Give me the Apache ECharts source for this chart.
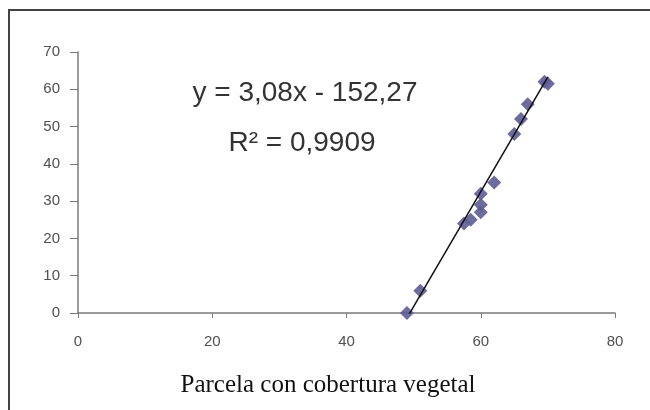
<!DOCTYPE html>
<html>
<head>
<meta charset="utf-8">
<script src="https://cdn.jsdelivr.net/npm/echarts@6/dist/echarts.min.js"></script>
<style>
  html, body { margin: 0; padding: 0; background: #fff; }
  #chart { width: 650px; height: 410px; }
</style>
</head>
<body>
<div id="chart"></div>
<script>
// measured points (x, y)
const xValues = [49, 51, 57.5, 58.5, 60, 60, 60, 62, 65, 66, 67, 69.5, 70];
const yValues = [0, 6, 24, 25, 27, 29, 32, 35, 48, 52, 56, 62, 61.5];
const xTicks = [0, 20, 40, 60, 80];
const yTicks = [0, 10, 20, 30, 40, 50, 60, 70];
// linear trend shown on the chart
const slope = 3.08;
const intercept = -152.27;
const r2 = '0,9909';
const caption = 'Parcela con cobertura vegetal';

const points = xValues.map((x, i) => [x, yValues[i]]);
const xMin = Math.min(...xValues);
const xMax = Math.max(...xValues);
const trend = [xMin, xMax].map(x => [x, slope * x + intercept]);

const fmt = v => v.toFixed(2).replace('.', ',');
const eqText = 'y = ' + fmt(slope) + 'x - ' + fmt(-intercept);

const myChart = echarts.init(document.getElementById('chart'));

const option = {
  animation: false,
  backgroundColor: '#fff',
  grid: { left: 78, right: 35, top: 52, bottom: 97 },
  xAxis: {
    type: 'value',
    min: xTicks[0],
    max: xTicks[xTicks.length - 1],
    interval: 20,
    splitLine: { show: false },
    axisLine: { lineStyle: { color: '#7a7a7a', width: 1.5 } },
    axisTick: { show: true, length: 5, lineStyle: { color: '#7a7a7a' } },
    axisLabel: { color: '#505050', fontSize: 15, fontFamily: 'Liberation Sans', margin: 21 }
  },
  yAxis: {
    type: 'value',
    min: yTicks[0],
    max: yTicks[yTicks.length - 1],
    interval: 10,
    splitLine: { show: false },
    axisLine: { show: true, lineStyle: { color: '#7a7a7a', width: 1.5 } },
    axisTick: { show: true, length: 8, lineStyle: { color: '#7a7a7a' } },
    axisLabel: { color: '#505050', fontSize: 15, fontFamily: 'Liberation Sans', margin: 18 }
  },
  series: [
    {
      type: 'line',
      data: trend,
      showSymbol: false,
      clip: true,
      lineStyle: { color: '#111', width: 1.5 },
      z: 3
    },
    {
      type: 'scatter',
      data: points,
      symbol: 'diamond',
      symbolSize: 14,
      itemStyle: { color: '#5d5c93', opacity: 0.9 },
      z: 2
    }
  ],
  graphic: [
    {
      type: 'rect',
      shape: { x: 9, y: 10, width: 700, height: 500 },
      style: { fill: 'none', stroke: '#444', lineWidth: 2 },
      silent: true
    },
    {
      type: 'text',
      x: 305, y: 93,
      style: {
        text: eqText,
        align: 'center', verticalAlign: 'middle',
        fontSize: 28, fontFamily: 'Liberation Sans', fill: '#333'
      }
    },
    {
      type: 'text',
      x: 302, y: 143,
      style: {
        text: 'R² = ' + r2,
        align: 'center', verticalAlign: 'middle',
        fontSize: 28, fontFamily: 'Liberation Sans', fill: '#333'
      }
    },
    {
      type: 'text',
      x: 328, y: 385,
      style: {
        text: caption,
        align: 'center', verticalAlign: 'middle',
        fontSize: 25, fontFamily: 'Liberation Serif', fill: '#111'
      }
    }
  ]
};

myChart.setOption(option);
</script>
</body>
</html>
